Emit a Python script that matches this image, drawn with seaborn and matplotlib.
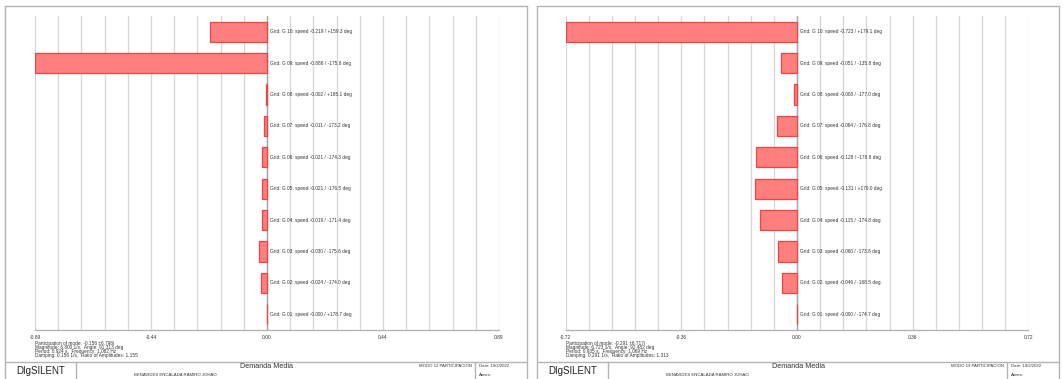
import numpy as np
import pandas as pd
import matplotlib
matplotlib.use("Agg")
import matplotlib.pyplot as plt
from matplotlib.lines import Line2D
import seaborn as sns

# Generator participation (speed) in two electromechanical modes
generators = ["G 10", "G 09", "G 08", "G 07", "G 06", "G 05", "G 04", "G 03", "G 02", "G 01"]

mode12_speed = [-0.219, -0.888, -0.002, -0.011, -0.021, -0.021, -0.019, -0.030, -0.024, -0.0]
mode12_angle = [159.3, -175.8, 165.1, -173.2, -174.3, -176.5, -171.4, -175.6, -174.0, 178.7]
mode12_limit = 0.888
mode12_ticklabels = ["-0.89", "-0.44", "0.00", "0.44", "0.89"]
mode12_info = [
    "Participation of mode: -0.156 \u00b16.798i",
    "Magnitude: 6.800 1/s,  Angle: 91.313 deg",
    "Period: 0.924 s,  Frequency: 1.082 Hz",
    "Damping: 0.156 1/s,  Ratio of Amplitudes: 1.155",
]

mode19_speed = [-0.723, -0.051, -0.008, -0.064, -0.128, -0.131, -0.115, -0.060, -0.046, -0.0]
mode19_angle = [179.1, -135.8, -177.0, -176.8, -178.8, 179.0, -174.8, -173.8, -168.5, -174.7]
mode19_limit = 0.723
mode19_ticklabels = ["-0.72", "-0.36", "0.00", "0.36", "0.72"]
mode19_info = [
    "Participation of mode: -0.291 \u00b16.717i",
    "Magnitude: 6.723 1/s,  Angle: 92.482 deg",
    "Period: 0.935 s,  Frequency: 1.069 Hz",
    "Damping: 0.291 1/s,  Ratio of Amplitudes: 1.313",
]

title_case = "Demanda Media"
author = "BENAVIDES ENCALADA RAMIRO JOHAO"
date_text = "Date: 19/2/2022"

sns.set_style("white")
plt.rcParams["font.family"] = ["Liberation Sans", "DejaVu Sans"]

W, H = 1063, 379
fig = plt.figure(figsize=(W / 100, H / 100), dpi=100)

FRAME = "#b4b4b4"
BAR_FACE = "#ff7e7e"
BAR_EDGE = "#ea4646"


def fx(x):
    return x / W


def fy(y):
    return 1 - y / H


def fig_line(x0, y0, x1, y1, color=FRAME, lw=1.0):
    fig.add_artist(Line2D([fx(x0), fx(x1)], [fy(y0), fy(y1)],
                          transform=fig.transFigure, color=color, lw=lw))


def draw_panel(x_left, x_right, ax_x0, ax_x1, speed, angle, limit, ticklabels, info, modo):
    # page frame and title block
    fig_line(x_left, 6, x_right, 6)
    fig_line(x_left, 6, x_left, H)
    fig_line(x_right, 6, x_right, H)
    fig_line(x_left, 362, x_right, 362)
    fig_line(x_left + 71, 362, x_left + 71, H)
    fig_line(x_left + 470, 362, x_left + 470, H)

    ax = fig.add_axes([fx(ax_x0), fy(330), fx(ax_x1) - fx(ax_x0), (330 - 16) / H])
    df = pd.DataFrame({"gen": generators, "speed": speed})
    sns.barplot(data=df, x="speed", y="gen", orient="h", color=BAR_FACE, saturation=1,
                width=0.64, edgecolor=BAR_EDGE, linewidth=0.9, ax=ax, zorder=3)
    ax.set_xlim(-limit, limit)
    ax.set_ylim(9.5, -0.5)
    ax.set_xlabel("")
    ax.set_ylabel("")
    ax.set_yticks([])

    ax.set_xticks(np.linspace(-limit, limit, 5))
    ax.set_xticklabels(ticklabels)
    ax.set_xticks(np.linspace(-limit, limit, 21), minor=True)
    ax.grid(True, which="both", axis="x", color="#d6d6d6", lw=0.9, zorder=0)
    ax.set_axisbelow(True)
    ax.axvline(0, color="#a4a4a4", lw=1.0, zorder=2)
    ax.tick_params(axis="x", which="both", length=2.5, width=0.8, color="#b8b8b8",
                   labelsize=3.5, labelcolor="#333333", pad=1)
    for side in ("top", "left", "right"):
        ax.spines[side].set_visible(False)
    ax.spines["bottom"].set_color("#b0b0b0")
    ax.spines["bottom"].set_linewidth(0.9)

    for i, (g, v, a) in enumerate(zip(generators, speed, angle)):
        ax.annotate(f"Grid: {g}: speed {v:.3f} / {a:+.1f} deg", xy=(0, i),
                    xytext=(2.5, 0), textcoords="offset points",
                    ha="left", va="center", fontsize=3.4, color="#333333")

    for k, line in enumerate(info):
        fig.text(fx(ax_x0), fy(344 + 4 * k), line, fontsize=3.4, color="#333333",
                 ha="left", va="center")

    fig.text(fx(x_left + 36), fy(371), "DIgSILENT", fontsize=7, color="#222222",
             ha="center", va="center")
    fig.text(fx(x_left + 262), fy(366.5), title_case, fontsize=5.2, color="#333333",
             ha="center", va="center")
    fig.text(fx(x_left + 170), fy(375.5), author, fontsize=3.1, color="#333333",
             ha="center", va="center")
    fig.text(fx(x_left + 467), fy(366), modo, fontsize=3.1, color="#333333",
             ha="right", va="center")
    fig.text(fx(x_left + 474), fy(366), date_text, fontsize=3.1, color="#333333",
             ha="left", va="center")
    fig.text(fx(x_left + 474), fy(375.5), "Annex:", fontsize=3.1, color="#333333",
             ha="left", va="center")


draw_panel(5, 527, 35, 499, mode12_speed, mode12_angle, mode12_limit,
           mode12_ticklabels, mode12_info, "MODO 12 PARTICIPACION")
draw_panel(537, 1059, 565.7, 1028.3, mode19_speed, mode19_angle, mode19_limit,
           mode19_ticklabels, mode19_info, "MODO 19 PARTICIPACION")

fig.savefig("out.png", dpi=100)
